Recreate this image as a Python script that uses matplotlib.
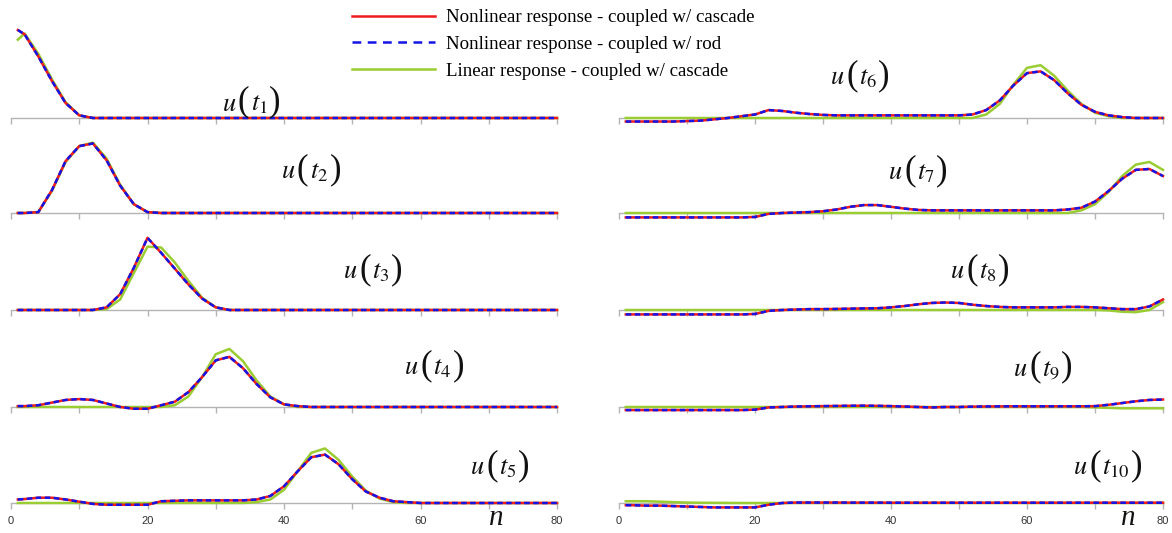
import matplotlib
matplotlib.use('Agg')
import matplotlib.pyplot as plt
from matplotlib.lines import Line2D
from matplotlib.offsetbox import TextArea, HPacker, AnnotationBbox

plt.rcParams['mathtext.fontset'] = 'stix'

# grid points along the chain
n = [1, 2, 4, 6, 8, 10, 12, 14, 16, 18,
     20, 22, 24, 26, 28, 30, 32, 34, 36, 38,
     40, 42, 44, 46, 48, 50, 52, 54, 56, 58,
     60, 62, 64, 66, 68, 70, 72, 74, 76, 78,
     80]

# nonlinear response (cascade and rod coincide) / linear response, per snapshot
nl_t1 = [1.00, 0.95, 0.70, 0.42, 0.17, 0.03, 0, 0, 0, 0,
         0, 0, 0, 0, 0, 0, 0, 0, 0, 0,
         0, 0, 0, 0, 0, 0, 0, 0, 0, 0,
         0, 0, 0, 0, 0, 0, 0, 0, 0, 0,
         0]
lin_t1 = [0.89, 0.96, 0.73, 0.44, 0.18, 0.03, 0, 0, 0, 0,
          0, 0, 0, 0, 0, 0, 0, 0, 0, 0,
          0, 0, 0, 0, 0, 0, 0, 0, 0, 0,
          0, 0, 0, 0, 0, 0, 0, 0, 0, 0,
          0]

nl_t2 = [0, 0, 0.01, 0.26, 0.59, 0.76, 0.79, 0.60, 0.31, 0.10,
         0.01, 0, 0, 0, 0, 0, 0, 0, 0, 0,
         0, 0, 0, 0, 0, 0, 0, 0, 0, 0,
         0, 0, 0, 0, 0, 0, 0, 0, 0, 0,
         0]
lin_t2 = [0, 0, 0.01, 0.25, 0.58, 0.76, 0.80, 0.62, 0.32, 0.10,
          0.01, 0, 0, 0, 0, 0, 0, 0, 0, 0,
          0, 0, 0, 0, 0, 0, 0, 0, 0, 0,
          0, 0, 0, 0, 0, 0, 0, 0, 0, 0,
          0]

nl_t3 = [0, 0, 0, 0, 0, 0, 0, 0.03, 0.18, 0.48,
         0.82, 0.65, 0.47, 0.29, 0.13, 0.03, 0, 0, 0, 0,
         0, 0, 0, 0, 0, 0, 0, 0, 0, 0,
         0, 0, 0, 0, 0, 0, 0, 0, 0, 0,
         0]
lin_t3 = [0, 0, 0, 0, 0, 0, 0, 0.01, 0.12, 0.42,
          0.72, 0.71, 0.54, 0.33, 0.14, 0.03, 0, 0, 0, 0,
          0, 0, 0, 0, 0, 0, 0, 0, 0, 0,
          0, 0, 0, 0, 0, 0, 0, 0, 0, 0,
          0]

nl_t4 = [0.01, 0.01, 0.02, 0.05, 0.08, 0.09, 0.08, 0.04, 0.0, -0.02,
         -0.02, 0.02, 0.06, 0.17, 0.34, 0.53, 0.57, 0.44, 0.26, 0.11,
         0.03, 0.01, 0, 0, 0, 0, 0, 0, 0, 0,
         0, 0, 0, 0, 0, 0, 0, 0, 0, 0,
         0]
lin_t4 = [0, 0, 0, 0, 0, 0, 0, 0, 0, 0,
          0, 0, 0.02, 0.12, 0.34, 0.60, 0.66, 0.52, 0.30, 0.12,
          0.03, 0, 0, 0, 0, 0, 0, 0, 0, 0,
          0, 0, 0, 0, 0, 0, 0, 0, 0, 0,
          0]

nl_t5 = [0.04, 0.045, 0.06, 0.06, 0.04, 0.015, -0.01, -0.02, -0.02, -0.02,
         -0.02, 0.02, 0.025, 0.03, 0.03, 0.03, 0.03, 0.03, 0.04, 0.08,
         0.19, 0.36, 0.52, 0.55, 0.44, 0.27, 0.13, 0.06, 0.02, 0.01,
         0, 0, 0, 0, 0, 0, 0, 0, 0, 0,
         0]
lin_t5 = [0, 0, 0, 0, 0, 0, 0, 0, 0, 0,
          0, 0, 0, 0, 0, 0, 0, 0, 0.01, 0.04,
          0.15, 0.36, 0.57, 0.62, 0.49, 0.30, 0.14, 0.05, 0.01, 0,
          0, 0, 0, 0, 0, 0, 0, 0, 0, 0,
          0]

nl_t6 = [-0.04, -0.04, -0.04, -0.04, -0.04, -0.035, -0.03, -0.015, 0.0, 0.02,
         0.04, 0.09, 0.08, 0.06, 0.045, 0.035, 0.03, 0.03, 0.03, 0.03,
         0.03, 0.03, 0.03, 0.03, 0.03, 0.03, 0.04, 0.09, 0.20, 0.37,
         0.51, 0.53, 0.43, 0.28, 0.15, 0.07, 0.03, 0.01, 0.0, 0.0,
         0.0]
lin_t6 = [0, 0, 0, 0, 0, 0, 0, 0, 0, 0,
          0, 0, 0, 0, 0, 0, 0, 0, 0, 0,
          0, 0, 0, 0, 0, 0, 0, 0.04, 0.16, 0.38,
          0.57, 0.60, 0.48, 0.31, 0.16, 0.06, 0.02, 0, 0, 0,
          0]

nl_t7 = [-0.05, -0.05, -0.05, -0.05, -0.05, -0.05, -0.05, -0.05, -0.05, -0.05,
         -0.045, -0.01, 0.0, 0.005, 0.01, 0.02, 0.04, 0.07, 0.09, 0.09,
         0.07, 0.05, 0.035, 0.03, 0.03, 0.03, 0.03, 0.03, 0.03, 0.03,
         0.03, 0.03, 0.03, 0.04, 0.06, 0.13, 0.25, 0.39, 0.49, 0.50,
         0.42]
lin_t7 = [0, 0, 0, 0, 0, 0, 0, 0, 0, 0,
          0, 0, 0, 0, 0, 0, 0, 0, 0, 0,
          0, 0, 0, 0, 0, 0, 0, 0, 0, 0,
          0, 0, 0, 0, 0.03, 0.10, 0.24, 0.42, 0.55, 0.58,
          0.49]

nl_t8 = [-0.05, -0.05, -0.05, -0.05, -0.05, -0.05, -0.05, -0.05, -0.05, -0.05,
         -0.045, -0.01, 0.0, 0.005, 0.01, 0.01, 0.012, 0.015, 0.018, 0.02,
         0.03, 0.045, 0.065, 0.08, 0.085, 0.08, 0.06, 0.045, 0.035, 0.03,
         0.03, 0.03, 0.03, 0.035, 0.035, 0.03, 0.02, 0.01, 0.01, 0.04,
         0.12]
lin_t8 = [0, 0, 0, 0, 0, 0, 0, 0, 0, 0,
          0, 0, 0, 0, 0, 0, 0, 0, 0, 0,
          0, 0, 0, 0, 0, 0, 0, 0, 0, 0,
          0, 0, 0, 0, 0, 0, -0.005, -0.02, -0.025, 0.0,
          0.09]

nl_t9 = [-0.035, -0.035, -0.035, -0.035, -0.035, -0.035, -0.035, -0.035, -0.035, -0.035,
         -0.03, -0.005, 0.0, 0.005, 0.008, 0.01, 0.012, 0.014, 0.015, 0.013,
         0.01, 0.005, 0.0, -0.005, 0.0, 0.0, 0.004, 0.006, 0.007, 0.008,
         0.008, 0.008, 0.008, 0.008, 0.008, 0.01, 0.025, 0.045, 0.065, 0.08,
         0.085]
lin_t9 = [0, 0, 0, 0, 0, 0, 0, 0, 0, 0,
          0, 0, 0, 0, 0, 0, 0, 0, 0, 0,
          0, 0, 0, 0, 0, 0, 0, 0, 0, 0,
          0, 0, 0, 0, 0, -0.005, -0.01, -0.015, -0.015, -0.015,
          -0.015]

nl_t10 = [-0.025, -0.025, -0.03, -0.03, -0.035, -0.04, -0.045, -0.05, -0.05, -0.05,
          -0.05, -0.02, 0.0, 0.005, 0.005, 0.005, 0.005, 0.004, 0.004, 0.004,
          0.003, 0.003, 0.003, 0.003, 0.003, 0.003, 0.003, 0.003, 0.003, 0.003,
          0.003, 0.003, 0.003, 0.003, 0.003, 0.003, 0.003, 0.003, 0.003, 0.003,
          0.003]
lin_t10 = [0.02, 0.02, 0.02, 0.015, 0.01, 0.005, 0.003, 0.002, 0.001, 0,
           0, 0, 0, 0, 0, 0, 0, 0, 0, 0,
           0, 0, 0, 0, 0, 0, 0, 0, 0, 0,
           0, 0, 0, 0, 0, 0, 0, 0, 0, 0,
           0]

snap_index = ['1', '2', '3', '4', '5', '6', '7', '8', '9', '10']
nonlinear = [nl_t1, nl_t2, nl_t3, nl_t4, nl_t5, nl_t6, nl_t7, nl_t8, nl_t9, nl_t10]
linear = [lin_t1, lin_t2, lin_t3, lin_t4, lin_t5, lin_t6, lin_t7, lin_t8, lin_t9, lin_t10]
series_labels = ['Nonlinear response - coupled w/ cascade',
                 'Nonlinear response - coupled w/ rod',
                 'Linear response - coupled w/ cascade']
tick_vals = [0, 10, 20, 30, 40, 50, 60, 70, 80]
tick_text = ['0', '', '20', '', '40', '', '60', '', '80']

RED, BLUE, GREEN = '#ee1c1c', '#1414e6', '#9acd32'
AXIS_GREY = '#b4b4b4'
INK = '#111111'

W, H = 1172, 533
fig = plt.figure(figsize=(W / 100, H / 100), dpi=100)

# layout in pixels
col_x = [(11, 557), (619, 1163)]
baselines = [118, 213, 310, 407, 503]
unit = 88
ylo, yhi = -0.1, 1.0
label_pos = [(251, 102), (311, 170), (373, 270), (434, 366), (500, 466),
             (860, 76), (918, 171), (980, 270), (1043, 367), (1108, 466)]


def snapshot_label(idx):
    # u(t_i) with tall upright parentheses
    letter = {'fontsize': 19, 'color': INK}
    paren = {'fontsize': 25, 'color': INK, 'family': 'Liberation Serif'}
    parts = [TextArea(r'$u$', textprops=letter),
             TextArea('(', textprops=paren),
             TextArea(r'$t_{%s}$' % idx, textprops=letter),
             TextArea(')', textprops=paren)]
    return HPacker(children=parts, align='baseline', pad=0, sep=1)


for i in range(10):
    col, row = divmod(i, 5)
    x0, x1 = col_x[col]
    b = baselines[row]
    bot = b - ylo * unit
    top = b - yhi * unit
    ax = fig.add_axes([x0 / W, 1 - bot / H, (x1 - x0) / W, (bot - top) / H])
    ax.patch.set_visible(False)

    ax.plot(n, linear[i], color=GREEN, lw=1.8, clip_on=False, zorder=3)
    ax.plot(n, nonlinear[i], color=RED, lw=1.8, clip_on=False, zorder=4)
    ax.plot(n, nonlinear[i], color=BLUE, lw=1.8, ls=(0, (2.2, 1.4)),
            clip_on=False, zorder=5)

    ax.set_xlim(0, 80)
    ax.set_ylim(ylo, yhi)
    for s in ['top', 'left', 'right']:
        ax.spines[s].set_visible(False)
    ax.spines['bottom'].set_position(('data', 0))
    ax.spines['bottom'].set_color(AXIS_GREY)
    ax.spines['bottom'].set_linewidth(1.0)
    ax.set_yticks([])
    ax.set_xticks(tick_vals)
    ax.tick_params(axis='x', direction='out', length=4, width=1, color=AXIS_GREY,
                   labelsize=8, labelcolor='#333333', pad=5)
    if row == 4:
        ax.set_xticklabels(tick_text, family='Liberation Sans')
    else:
        ax.tick_params(axis='x', labelbottom=False)

    lx, ly = label_pos[i]
    ab = AnnotationBbox(snapshot_label(snap_index[i]), (lx / W, 1 - ly / H),
                        xycoords='figure fraction', frameon=False,
                        box_alignment=(0.5, 0.5), pad=0)
    fig.add_artist(ab)

# axis variable
for nx in [496, 1128]:
    fig.text(nx / W, 1 - 525 / H, 'n', family='Liberation Serif', style='italic',
             fontsize=21, ha='center', va='baseline', color=INK)

handles = [Line2D([], [], color=RED, lw=1.8),
           Line2D([], [], color=BLUE, lw=1.8, ls=(0, (3.5, 2.6))),
           Line2D([], [], color=GREEN, lw=1.8)]
fig.legend(handles, series_labels, loc='upper left',
           bbox_to_anchor=(352 / W, 1 - 9 / H), frameon=False,
           prop={'family': 'Liberation Serif', 'size': 13.6},
           handlelength=4.4, handletextpad=0.55, labelspacing=0.5,
           borderpad=0, borderaxespad=0)

fig.savefig('out.png', dpi=100)
plt.close(fig)
